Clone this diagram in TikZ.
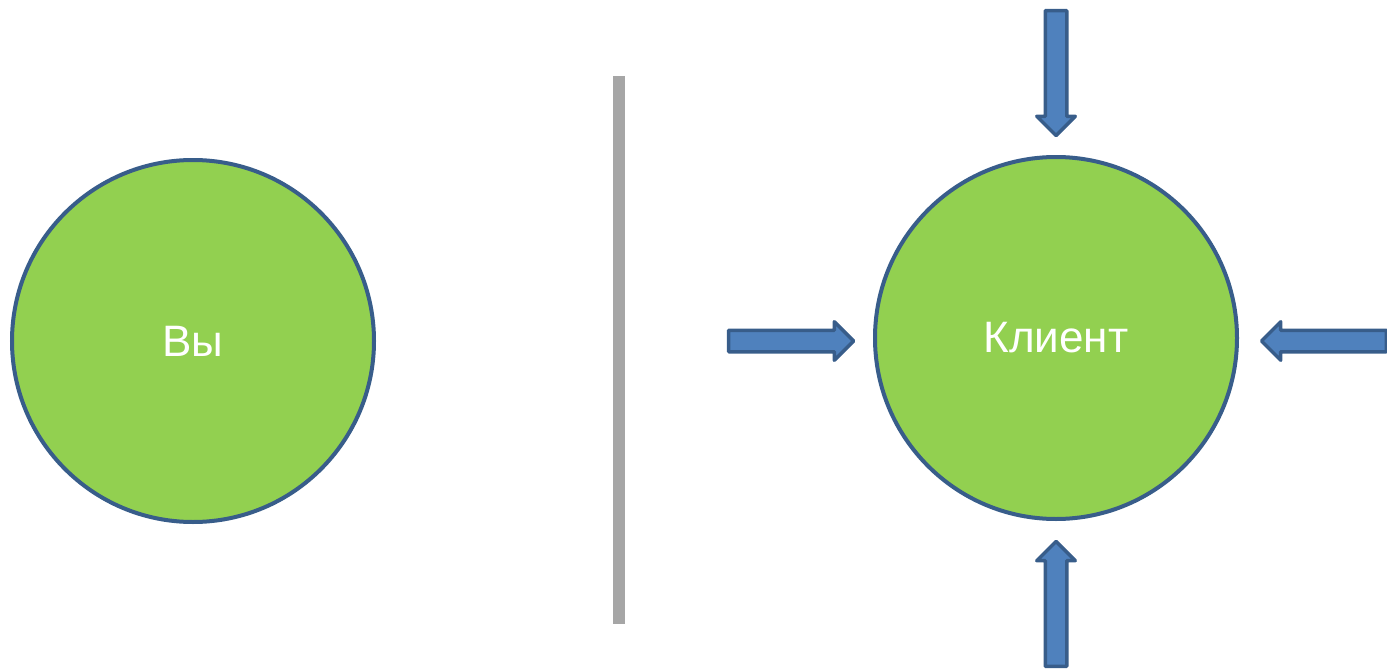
\documentclass[tikz,border=0pt]{standalone}
\usepackage{fontspec}
\setmainfont{Liberation Sans}
\usetikzlibrary{shapes.arrows}
\definecolor{circfill}{HTML}{92D050}
\definecolor{darkblue}{HTML}{385D8A}
\definecolor{arrfill}{HTML}{4F81BD}
\definecolor{divgray}{HTML}{A6A6A6}
\tikzset{
  bigcircle/.style={circle, draw=darkblue, fill=circfill, line width=4pt, minimum size=362pt, inner sep=0pt,
    text=white, font=\fontsize{44}{50}\selectfont},
  blockarrow/.style={single arrow, draw=darkblue, fill=arrfill, line width=3.5pt, line join=round,
    minimum height=125pt, inner sep=9pt, single arrow head extend=8.5pt, anchor=tip}
}
\begin{document}
\begin{tikzpicture}[x=1pt,y=-1pt]
\useasboundingbox (0,0) rectangle (1387,669);
\node[bigcircle] (you) at (193,341) {Вы};
\node[bigcircle] (client) at (1056,338) {Клиент};
\coordinate (divtop) at (619,76);
\coordinate (divbot) at (619,624);
\draw[divgray, line width=12pt] (divtop) -- (divbot);
\node[blockarrow, shape border rotate=0] (aleft) at (856,341) {};
\node[blockarrow, shape border rotate=180] (aright) at (1259,341) {};
\node[blockarrow, shape border rotate=270] (atop) at (1056,138) {};
\node[blockarrow, shape border rotate=90] (abot) at (1056,539) {};
\end{tikzpicture}
\end{document}
